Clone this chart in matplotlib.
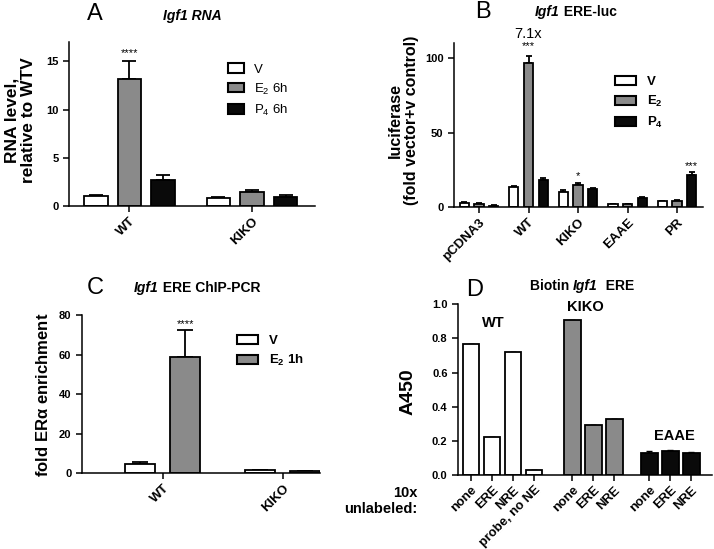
import numpy as np
import matplotlib
matplotlib.use('Agg')
import matplotlib.pyplot as plt
from matplotlib.patches import Patch

plt.rcParams['font.family'] = ['Liberation Sans', 'DejaVu Sans']
plt.rcParams['mathtext.fontset'] = 'custom'
plt.rcParams['mathtext.rm'] = 'Liberation Sans'
plt.rcParams['mathtext.bf'] = 'Liberation Sans:bold'
plt.rcParams['axes.linewidth'] = 1.1

W, H = 714, 549
WHITE, GREY, BLACK = 'white', '#8a8a8a', '#0a0a0a'

# ---- panel A: Igf1 RNA
a_groups = ['WT', 'KIKO']
a_series = ['V', 'E$_2$ 6h', 'P$_4$ 6h']
a_vals = [[1.0, 13.2, 2.7], [0.8, 1.4, 0.9]]
a_err = [[0.12, 1.8, 0.55], [0.1, 0.25, 0.25]]

# ---- panel B: Igf1 ERE-luc
b_groups = ['pCDNA3', 'WT', 'KIKO', 'EAAE', 'PR']
b_series = ['V', r'E$_\mathbf{2}$', r'P$_\mathbf{4}$']
b_vals = [[3.0, 2.5, 1.0], [13.5, 97.0, 18.0], [10.0, 15.0, 12.0],
          [2.0, 2.0, 6.5], [4.0, 4.5, 22.0]]
b_err = [[0.5, 0.4, 0.3], [1.0, 4.5, 1.5], [1.5, 1.0, 0.8],
         [0.3, 0.3, 0.5], [0.5, 0.6, 1.8]]

# ---- panel C: Igf1 ERE ChIP-PCR
c_groups = ['WT', 'KIKO']
c_series = ['V', r'E$_\mathbf{2}$ 1h']
c_vals = [[4.5, 59.0], [1.5, 1.2]]
c_err = [[1.0, 13.5], [0.2, 0.2]]

# ---- panel D: Biotin Igf1 ERE
d_labels = ['none', 'ERE', 'NRE', 'probe, no NE', 'none', 'ERE', 'NRE',
            'none', 'ERE', 'NRE']
d_vals = [0.77, 0.22, 0.72, 0.03, 0.91, 0.29, 0.33, 0.13, 0.14, 0.13]
d_err = [0, 0, 0, 0, 0, 0, 0, 0.01, 0.005, 0.005]
d_kind = ['WT'] * 4 + ['KIKO'] * 3 + ['EAAE'] * 3


def box(l, t, r, b):
    return [l / W, 1 - b / H, (r - l) / W, (b - t) / H]


def style(ax):
    for s in ['top', 'right']:
        ax.spines[s].set_visible(False)
    ax.tick_params(width=1.1, length=4)
    ax.tick_params(axis='y', labelsize=8)
    ax.tick_params(axis='x', pad=2.5)
    for lab in ax.get_yticklabels():
        lab.set_fontweight('bold')


def grouped(ax, vals, errs, spacing, width, colors, capsize):
    vals = np.array(vals)
    errs = np.array(errs)
    n = vals.shape[1]
    centers = np.arange(vals.shape[0]) * spacing
    for j in range(n):
        x = centers + (j - (n - 1) / 2)
        ax.bar(x, vals[:, j], width, color=colors[j], edgecolor='black',
               linewidth=1.3, zorder=2)
        ax.errorbar(x, vals[:, j], yerr=[np.zeros(len(x)), errs[:, j]],
                    fmt='none', ecolor='black', elinewidth=1.3,
                    capsize=capsize, capthick=1.3, zorder=1)
    return centers


def legend(ax, labels, colors, x, y, bold, hl):
    handles = [Patch(facecolor=c, edgecolor='black', linewidth=1.5) for c in colors]
    return ax.legend(handles, labels, loc='upper left', bbox_to_anchor=(x, y),
                     frameon=False, borderpad=0, borderaxespad=0,
                     handlelength=hl, handleheight=0.7, handletextpad=0.8,
                     labelspacing=0.45,
                     prop={'size': 9.5, 'weight': 'bold' if bold else 'normal'})


def title(x, y, pieces, size=10):
    # pieces of (text, italic?) laid side by side, centred on x (pixels)
    rend = fig.canvas.get_renderer()
    ts = [fig.text(0, 1 - y / H, s, fontsize=size, fontweight='bold',
                   fontstyle='italic' if it else 'normal', va='center', ha='left')
          for s, it in pieces]
    ws = [t.get_window_extent(rend).width for t in ts]
    start = x - sum(ws) / 2
    for t, w in zip(ts, ws):
        t.set_x(start / W)
        start += w


fig = plt.figure(figsize=(W / 100, H / 100), dpi=100)

# ---------------- A
ax = fig.add_axes(box(69, 42, 315, 206))
cen = grouped(ax, a_vals, a_err, 3.66, 0.7, [WHITE, GREY, BLACK], 5)
ax.set_xlim(-1.8, 5.54)
ax.set_ylim(0, 17)
ax.set_yticks([0, 5, 10, 15])
ax.set_xticks(cen)
ax.set_xticklabels(a_groups, rotation=45, ha='right', rotation_mode='anchor',
                   fontweight='bold', fontsize=9.5)
style(ax)
ax.text(cen[0], 15.8, '****', ha='center', va='center', fontsize=8)
legend(ax, a_series, [WHITE, GREY, BLACK], 0.646, 0.87, False, 1.2)
fig.text(20 / W, 1 - 120 / H, 'RNA level,\nrelative to WTV', rotation=90,
         ha='center', va='center', fontsize=12.5, fontweight='bold',
         linespacing=1.15)
fig.text(95 / W, 1 - 14 / H, 'A', ha='center', va='center', fontsize=17)
title(192, 16, [('Igf1 RNA', True)])

# ---------------- B
ax = fig.add_axes(box(454, 43.4, 703, 207.3))
cen = grouped(ax, b_vals, b_err, 3.37, 0.63, [WHITE, GREY, BLACK], 2.5)
ax.set_xlim(-1.7, 15.24)
ax.set_ylim(0, 110)
ax.set_yticks([0, 50, 100])
ax.set_xticks(cen)
ax.set_xticklabels(b_groups, rotation=45, ha='right', rotation_mode='anchor',
                   fontweight='bold', fontsize=9.5)
style(ax)
ax.text(cen[1], 108, '***', ha='center', va='center', fontsize=8, clip_on=False)
ax.text(cen[1], 116, '7.1x', ha='center', va='center', fontsize=10.5, clip_on=False)
ax.text(cen[2], 21, '*', ha='center', va='center', fontsize=8)
ax.text(cen[4] + 1, 28, '***', ha='center', va='center', fontsize=8)
legend(ax, b_series, [WHITE, GREY, BLACK], 0.647, 0.80, True, 1.6)
fig.text(403 / W, 1 - 120 / H, 'luciferase\n(fold vector+v control)',
         rotation=90, ha='center', va='center', fontsize=11.5,
         fontweight='bold', linespacing=1.1)
fig.text(483 / W, 1 - 12 / H, 'B', ha='center', va='center', fontsize=17)
title(576, 12, [('Igf1', True), (' ERE-luc', False)])

# ---------------- C
ax = fig.add_axes(box(81.7, 315, 320, 473.3))
cen = grouped(ax, c_vals, c_err, 2.67, 0.67, [WHITE, GREY], 6)
ax.set_xlim(-1.8, 3.5)
ax.set_ylim(0, 80)
ax.set_yticks([0, 20, 40, 60, 80])
ax.set_xticks(cen)
ax.set_xticklabels(c_groups, rotation=45, ha='right', rotation_mode='anchor',
                   fontweight='bold', fontsize=9.5)
style(ax)
ax.text(cen[0] + 0.5, 75.5, '****', ha='center', va='center', fontsize=8)
legend(ax, c_series, [WHITE, GREY], 0.652, 0.875, True, 1.6)
fig.text(43 / W, 1 - 395 / H, r'fold ER$\mathbf{\alpha}$ enrichment', rotation=90,
         ha='center', va='center', fontsize=12, fontweight='bold')
fig.text(95 / W, 1 - 288 / H, 'C', ha='center', va='center', fontsize=17)
title(197, 288, [('Igf1', True), (' ERE ChIP-PCR', False)])

# ---------------- D
ax = fig.add_axes(box(458, 304.3, 712, 475))
d_x = np.array([0, 1, 2, 3, 4.83, 5.83, 6.83, 8.5, 9.5, 10.5])
d_col = [{'WT': WHITE, 'KIKO': GREY, 'EAAE': BLACK}[k] for k in d_kind]
ax.bar(d_x, d_vals, 0.78, color=d_col, edgecolor='black', linewidth=1.3, zorder=2)
ax.errorbar(d_x, d_vals, yerr=[np.zeros(len(d_x)), d_err], fmt='none',
            ecolor='black', elinewidth=1.2, capsize=2, zorder=1)
ax.set_xlim(-0.62, 11.48)
ax.set_ylim(0, 1.0)
ax.set_yticks(np.arange(0, 1.01, 0.2))
ax.set_yticklabels([f'{v:.1f}' for v in np.arange(0, 1.01, 0.2)])
ax.set_xticks(d_x)
ax.set_xticklabels(d_labels, rotation=45, ha='right', rotation_mode='anchor',
                   fontweight='bold', fontsize=9.3)
style(ax)
ax.text(1.07, 0.89, 'WT', ha='center', va='center', fontsize=10.5, fontweight='bold')
ax.text(5.43, 0.985, 'KIKO', ha='center', va='center', fontsize=10.5,
        fontweight='bold', clip_on=False)
ax.text(9.67, 0.23, 'EAAE', ha='center', va='center', fontsize=10.5, fontweight='bold')
fig.text(408 / W, 1 - 392 / H, 'A450', rotation=90, ha='center', va='center',
         fontsize=14, fontweight='bold')
fig.text(417 / W, 1 - 501 / H, '10x\nunlabeled:', ha='right', va='center',
         fontsize=10.5, fontweight='bold', multialignment='right', linespacing=1.2)
fig.text(475 / W, 1 - 290 / H, 'D', ha='center', va='center', fontsize=17)
title(582, 286, [('Biotin ', False), ('Igf1', True), ('  ERE', False)])

fig.savefig('out.png', dpi=100, facecolor='white')
